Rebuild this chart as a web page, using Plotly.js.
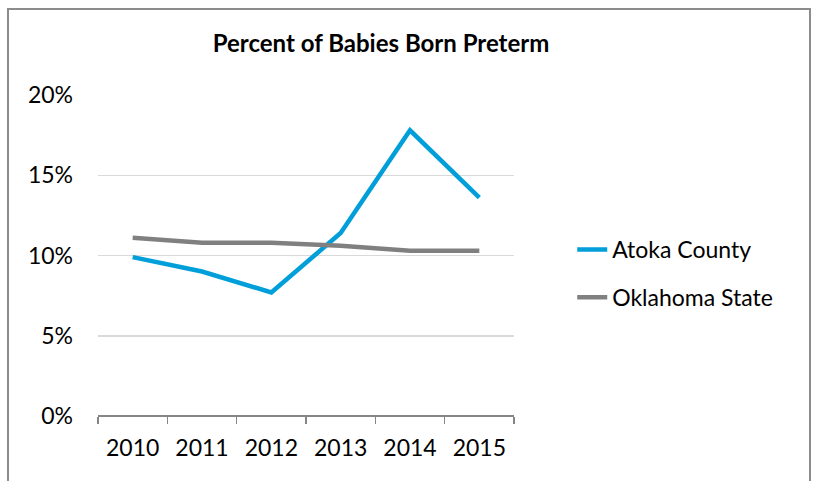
<!DOCTYPE html>
<html>
<head>
<meta charset="utf-8">
<script src="https://cdn.plot.ly/plotly-3.0.1.min.js"></script>
<style>
html,body{margin:0;padding:0;background:#fff;}
#chart{width:817px;height:481px;}
</style>
</head>
<body>
<div id="chart"></div>
<script>
const years = ['2010', '2011', '2012', '2013', '2014', '2015'];
const atokaCounty = [9.9, 9.0, 7.7, 11.4, 17.8, 13.6];
const oklahomaState = [11.1, 10.8, 10.8, 10.6, 10.3, 10.3];
const yTickVals = [0, 5, 10, 15, 20];
const yTickText = ['0%', '5%', '10%', '15%', '20%'];

const FONT = 'Lato, "Open Sans", sans-serif';

const traces = [
  {
    x: years, y: atokaCounty, type: 'scatter', mode: 'lines', name: 'Atoka County',
    line: {color: '#009FDA', width: 4.5}, legendgroup: 'a'
  },
  {
    x: years, y: oklahomaState, type: 'scatter', mode: 'lines', name: 'Oklahoma State',
    line: {color: '#808080', width: 4.5}, legendgroup: 'b'
  }
];

const layout = {
  width: 817, height: 481,
  margin: {l: 98, r: 303, t: 95, b: 65},
  paper_bgcolor: '#fff', plot_bgcolor: '#fff',
  font: {family: FONT, size: 23, color: '#000'},
  title: {
    text: '<b>Percent of Babies Born Preterm</b>',
    font: {family: FONT, size: 24, color: '#000'},
    x: 381 / 817, xanchor: 'center', xref: 'container',
    y: 1 - 44 / 481, yanchor: 'middle', yref: 'container'
  },
  xaxis: {
    type: 'category',
    range: [-0.5, 5.5],
    tickson: 'boundaries',
    ticks: 'outside', ticklen: 7, tickcolor: '#868686', tickwidth: 1.5,
    showline: false,
    showgrid: false, zeroline: false,
    tickfont: {family: FONT, size: 23, color: '#000'},
    ticklabelstandoff: 16,
    fixedrange: true
  },
  yaxis: {
    range: [0, 20],
    tickvals: yTickVals, ticktext: yTickText,
    showgrid: true, gridcolor: '#D9D9D9', gridwidth: 1.5,
    zeroline: true, zerolinecolor: '#868686', zerolinewidth: 1.5,
    showline: false, ticks: '',
    tickfont: {family: FONT, size: 23, color: '#000'},
    ticklabelstandoff: 24,
    fixedrange: true
  },
  showlegend: true,
  legend: {
    x: 1.14, xanchor: 'left',
    y: 0.444, yanchor: 'middle',
    font: {family: FONT, size: 23, color: '#000'},
    tracegroupgap: 15,
    itemwidth: 30,
    bgcolor: 'rgba(0,0,0,0)'
  },
  shapes: [
    {
      type: 'rect', xref: 'paper', yref: 'paper',
      x0: (8 - 98) / 416, x1: (810 - 98) / 416,
      y0: (416 - 500) / 321, y1: (416 - 9) / 321,
      line: {color: '#8C8C8C', width: 2}, fillcolor: 'rgba(0,0,0,0)', layer: 'below'
    }
  ]
};

Plotly.newPlot('chart', traces, layout, {displayModeBar: false, staticPlot: true});
</script>
</body>
</html>
